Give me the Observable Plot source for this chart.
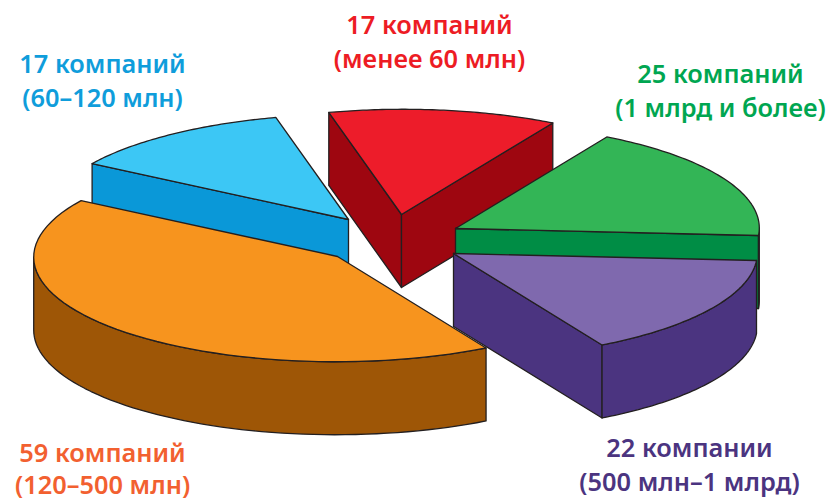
<!DOCTYPE html>
<html>
<head>
<meta charset="utf-8">
<script src="https://cdn.jsdelivr.net/npm/d3@7"></script>
<script src="https://cdn.jsdelivr.net/npm/@observablehq/plot@0.6"></script>
<style>html,body{margin:0;padding:0;background:#fff}svg{display:block}</style>
</head>
<body>
<div id="chart"></div>
<script>
// Data: number of companies per revenue band, clockwise from the red slice
const companies = [17, 25, 22, 59, 17];
const line1 = ["17 компаний", "25 компаний", "22 компании", "59 компаний", "17 компаний"];
const line2 = ["(менее 60 млн)", "(1 млрд и более)", "(500 млн–1 млрд)", "(120–500 млн)", "(60–120 млн)"];

// Appearance of each slice
const topColors  = ["#ed1c2a", "#33b556", "#7f69ae", "#f7941e", "#3cc7f5"];
const faceColors = ["#9e0610", "#008d45", "#4b3480", "#9e5606", "#0a98d8"];
const rimColors  = ["#9e0610", "#0f5c33", "#4b3480", "#9e5606", "#0a98d8"];
const textColors = ["#ed1c24", "#00a651", "#4b3480", "#f26030", "#0f9ddb"];
const apexX = [401, 455, 453, 337, 348];
const apexY = [214, 228, 253, 256, 219];
const labelX = [429, 720, 689, 102, 102];
const labelY = [25, 74, 448, 453, 64];
const lineGaps = [34, 34, 34, 32.5, 34.5];
const paintOrder = [0, 1, 4, 3, 2];

// Flat projection of the unit disc, and the thickness of the pie
const P = [303, 7], Q = [-22, 105], depth = 73;
const rad = Math.PI / 180;
const startDeg = -108;
const total = d3.sum(companies);
const frontFrom = Math.atan2(Q[0], P[0]) / rad; // right extreme of the rim
const frontTo = frontFrom + 180;                // left extreme of the rim

const rim = (i, deg) => ({
  x: apexX[i] + P[0] * Math.cos(deg * rad) + Q[0] * Math.sin(deg * rad),
  y: apexY[i] + P[1] * Math.cos(deg * rad) + Q[1] * Math.sin(deg * rad)
});
const down = (p) => ({x: p.x, y: p.y + depth});
const arc = (i, a, b) => d3.range(0, 61).map((k) => rim(i, a + (b - a) * k / 60));

let running = startDeg;
const slices = companies.map((v, i) => {
  const a = running, b = running + v / total * 360;
  running = b;
  return {i, a, b};
});

const polygon = (pts, fill) => Plot.line([...pts, pts[0]], {
  x: "x", y: "y", fill, stroke: "#231f20", strokeWidth: 1.3,
  strokeLinejoin: "round", curve: "linear"
});

// A radial wall is seen only when it faces the viewer (its outward normal points down)
const startVisible = (a) => P[1] * Math.sin(a * rad) - Q[1] * Math.cos(a * rad) > 0;
const endVisible = (b) => -P[1] * Math.sin(b * rad) + Q[1] * Math.cos(b * rad) > 0;

const sliceMarks = ({i, a, b}) => {
  const apex = {x: apexX[i], y: apexY[i]};
  const ps = rim(i, a), pe = rim(i, b);
  const marks = [];
  if (startVisible(a)) marks.push(polygon([apex, ps, down(ps), down(apex)], faceColors[i]));
  if (endVisible(b)) marks.push(polygon([apex, pe, down(pe), down(apex)], faceColors[i]));
  const fa = Math.max(a, frontFrom), fb = Math.min(b, frontTo);
  if (fb > fa) {
    const edge = arc(i, fa, fb);
    marks.push(polygon([...edge, ...edge.slice().reverse().map(down)], rimColors[i]));
  }
  marks.push(polygon([apex, ...arc(i, a, b)], topColors[i]));
  return marks;
};

const labelRows = companies.flatMap((_, i) => [
  {x: labelX[i], y: labelY[i], text: line1[i], color: textColors[i]},
  {x: labelX[i], y: labelY[i] + lineGaps[i], text: line2[i], color: textColors[i]}
]);

const chart = Plot.plot({
  width: 829, height: 502,
  margin: 0,
  x: {domain: [0, 829], range: [0, 829], axis: null},
  y: {domain: [0, 502], range: [0, 502], axis: null},
  style: {background: "#fff"},
  marks: [
    ...paintOrder.flatMap((i) => sliceMarks(slices[i])),
    Plot.text(labelRows, {
      x: "x", y: "y", text: "text", fill: (d) => d.color,
      fontFamily: "'Noto Sans', sans-serif", fontWeight: 600, fontSize: 25.4,
      textAnchor: "middle", lineAnchor: "middle"
    })
  ]
});
document.getElementById("chart").appendChild(chart);
</script>
</body>
</html>
